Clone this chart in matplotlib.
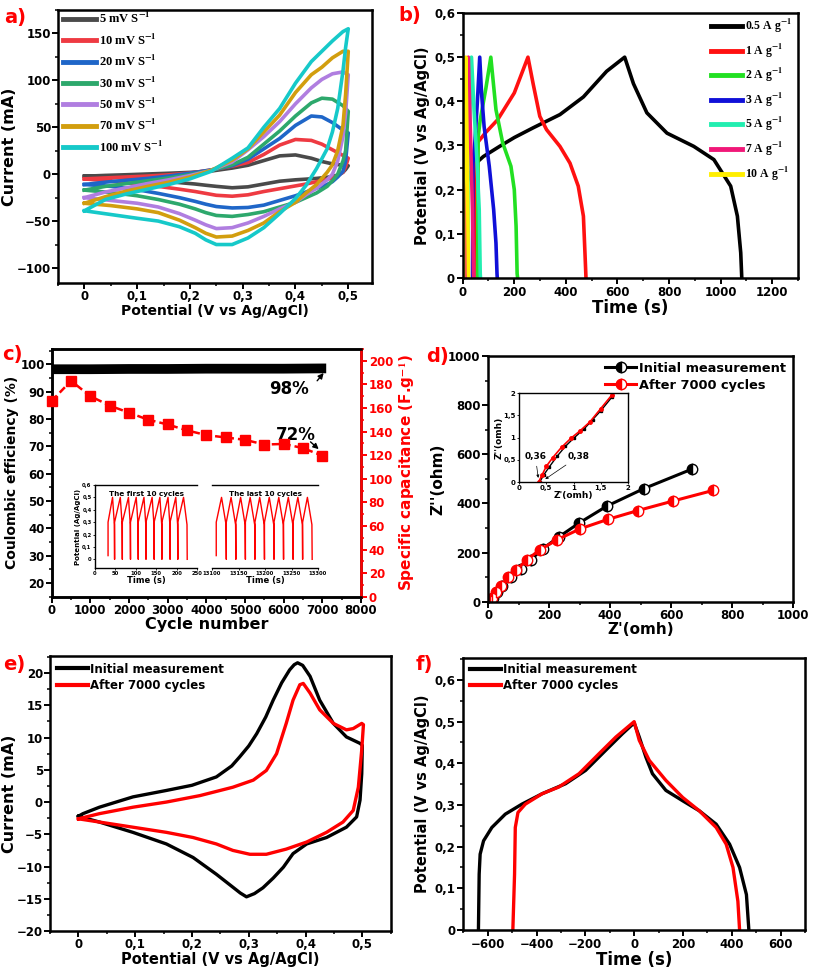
import matplotlib
matplotlib.use('Agg')
import matplotlib.pyplot as plt
from matplotlib.ticker import MultipleLocator, FuncFormatter

plt.rcParams['font.family'] = ['DejaVu Sans']
plt.rcParams['font.weight'] = 'bold'
plt.rcParams['axes.labelweight'] = 'bold'
plt.rcParams['axes.linewidth'] = 1.6
plt.rcParams['mathtext.fontset'] = 'stix'

# ---------------- data: panel a (CV at several scan rates) ----------------
cv_rates = ['5 mV S$^{-1}$', '10 mV S$^{-1}$', '20 mV S$^{-1}$', '30 mV S$^{-1}$',
            '50 mV S$^{-1}$', '70 mV S$^{-1}$', '100 mV S$^{-1}$']
cv_colors = ['#4a4a4a', '#ee3a42', '#1f66c8', '#2da86c', '#b07ee0', '#d29e0e', '#16c9c9']
cv_up_V = [0, .04, .08, .12, .16, .2, .24, .28, .31, .34, .37, .40, .43, .45, .47, .49, .5]
cv_dn_V = [.5, .495, .49, .48, .47, .46, .44, .42, .40, .37, .34, .31, .28, .25, .23, .21, .18, .14, .1, .05, 0]
cv_up_I = [
    [-2.2, -1.3, -0.6, 0.2, 1.0, 1.9, 3.3, 6.5, 9.5, 14.5, 19.5, 20.5, 17, 13.5, 11, 9.5, 9],
    [-5, -4, -3, -2, -0.7, 1.2, 4.5, 8.5, 12.5, 21, 31, 37, 36, 32, 26, 20, 17],
    [-11, -8.5, -6.5, -4.5, -2, 1, 4.5, 9, 16, 27, 38, 52, 62, 61, 55, 47, 44],
    [-17, -13, -10, -7, -4, -0.5, 4, 10, 18, 32, 46, 62, 76, 81, 80, 73, 67],
    [-25, -19, -14.5, -10, -6, -1.5, 4, 13, 26, 40, 56, 75, 92, 101, 107, 109, 106],
    [-31, -24, -18, -13, -8.5, -3, 4, 15, 27, 45, 63, 87, 106, 114, 124, 131, 131],
    [-39, -27, -21, -16, -11, -5, 3, 17, 28, 50, 70, 97, 120, 131, 142, 152, 155],
]
cv_dn_I = [
    [9, 5, 2, -1, -2.5, -3.3, -4.5, -5.3, -6, -7.5, -10.5, -13.5, -14.5, -13, -11.8, -10.5, -9, -7, -5, -3.3, -2.2],
    [17, 8, 2, -1.5, -4, -5.5, -8, -10.5, -12.5, -15.5, -18.5, -22, -23.5, -22.5, -20.5, -18.5, -16, -13, -10.5, -7.5, -5],
    [44, 14, 3, -3, -8, -11, -15, -19, -23, -28, -33, -35.5, -36, -34.5, -32, -29, -25, -20.5, -16.5, -13, -11],
    [67, 25, 14, 0, -7, -13, -20, -25, -30, -35, -40, -43, -45, -44, -41, -37, -32, -27, -23, -19.5, -17],
    [106, 65, 40, 14, 0, -6, -15, -22, -30, -37, -45, -52, -57, -58, -54, -49, -42, -35, -31, -28, -25],
    [131, 85, 52, 25, 10, 2, -11, -20, -30, -40, -52, -60, -66, -67, -63, -57, -49, -41, -37, -33.5, -31],
    [155, 135, 110, 70, 45, 27, 6, -12, -26, -42, -57, -68, -75, -75, -70, -63, -56, -50, -47, -43, -39],
]

# ---------------- data: panel b (GCD at several current densities) ----------------
gcd_labels = ['0.5 A g$^{-1}$', '1 A g$^{-1}$', '2 A g$^{-1}$', '3 A g$^{-1}$',
              '5 A g$^{-1}$', '7 A g$^{-1}$', '10 A g$^{-1}$']
gcd_colors = ['#000000', '#ff1010', '#22e022', '#1010d8', '#22eeb0', '#f01878', '#ffee00']
gcd_t = [
    [0, 4, 12, 38, 80, 143, 200, 273, 377, 468, 558, 628, 662, 714, 792, 896, 974, 1039, 1065, 1078, 1082],
    [44, 46, 51, 90, 135, 200, 253, 273, 299, 325, 377, 416, 448, 468, 474, 478],
    [58, 60, 68, 90, 109, 129, 155, 187, 200, 207, 211, 213],
    [38, 40, 47, 57, 66, 73, 83, 103, 120, 129, 133, 134],
    [20, 21, 25, 34, 44, 55, 64, 68, 69],
    [10, 11, 15, 22, 31, 38, 42, 43],
    [3, 4, 7, 12, 18, 22, 23],
]
gcd_V = [
    [0, 0.15, 0.207, 0.253, 0.275, 0.298, 0.318, 0.34, 0.37, 0.41, 0.468, 0.5, 0.44, 0.374, 0.328, 0.298, 0.268, 0.208, 0.14, 0.057, 0],
    [0, 0.29, 0.302, 0.33, 0.358, 0.419, 0.5, 0.44, 0.366, 0.336, 0.298, 0.26, 0.208, 0.14, 0.057, 0],
    [0, 0.32, 0.358, 0.43, 0.5, 0.381, 0.306, 0.253, 0.2, 0.117, 0.01, 0],
    [0, 0.26, 0.306, 0.4, 0.5, 0.419, 0.343, 0.253, 0.155, 0.079, 0.01, 0],
    [0, 0.25, 0.32, 0.5, 0.381, 0.268, 0.155, 0.01, 0],
    [0, 0.2, 0.3, 0.5, 0.306, 0.155, 0.01, 0],
    [0, 0.2, 0.3, 0.5, 0.267, 0.01, 0],
]

# ---------------- data: panel c (cycling) ----------------
ce_cycles = [0, 1000, 2000, 3000, 4000, 5000, 6000, 7000, 7100]
ce_values = [98.2, 98.2, 98.3, 98.3, 98.4, 98.4, 98.4, 98.5, 98.5]
cap_cycles = [0, 500, 1000, 1500, 2000, 2500, 3000, 3500, 4000, 4500, 5000, 5500, 6000, 6500, 7000]
cap_values = [166, 183, 170, 162, 156, 150, 146, 141, 137, 135, 133, 129, 129.5, 126, 119.5]
# inset: charge/discharge cycles (valley times, peak times, voltage levels)
first_valleys = [32, 48, 67, 87, 106, 125, 145, 164, 184, 203, 226]
first_peaks = [43, 62, 82, 101, 120, 140, 159, 179, 198, 217]
last_valleys = [13108, 13127, 13145, 13163, 13181, 13199, 13217, 13235, 13253, 13271, 13289]
last_peaks = [13118, 13136, 13154, 13172, 13190, 13208, 13226, 13244, 13262, 13280]
cyc_levels = [0.03, 0.30, 0.50, 0.28, 0.0]

# ---------------- data: panel d (Nyquist) ----------------
nyq_init_re = [3, 8, 15, 30, 46, 74, 107, 140, 178, 233, 299, 389, 510, 667]
nyq_init_im = [0, 4, 15, 38, 65, 99, 133, 171, 215, 265, 321, 389, 460, 539]
nyq_aft_re = [2, 4, 11, 24, 41, 66, 92, 126, 169, 227, 302, 392, 491, 607, 738]
nyq_aft_im = [0, 4, 15, 38, 65, 99, 129, 170, 211, 253, 297, 335, 371, 410, 453]
zin_init_re = [0.38, 0.45, 0.55, 0.70, 0.85, 1.00, 1.20, 1.35, 1.50, 1.70]
zin_init_im = [0.0, 0.15, 0.33, 0.58, 0.80, 0.98, 1.20, 1.40, 1.60, 1.90]
zin_aft_re = [0.36, 0.42, 0.50, 0.62, 0.78, 0.95, 1.12, 1.30, 1.50, 1.70]
zin_aft_im = [0.0, 0.15, 0.35, 0.55, 0.78, 0.98, 1.15, 1.35, 1.65, 1.95]

# ---------------- data: panel e (CV before/after) ----------------
e_init_V = [0, .008, .037, .096, .155, .20, .243, .27, .284, .30, .314, .33, .343, .358, .372, .38, .386, .395, .408, .425,
            .449, .472, .496, .5,
            .499, .496, .49, .472, .437, .402, .378, .361, .343, .325, .31, .296, .285, .272, .243, .202, .155, .096,
            .037, 0]
e_init_I = [-2.2, -1.8, -0.8, 0.8, 1.8, 2.6, 3.9, 5.6, 7, 8.7, 10.6, 13.2, 15.8, 18.5, 20.5, 21.3, 21.6, 21.2, 19.5, 15.8,
            12.2, 10.1, 9.1, 8.8,
            4.4, 0.3, -2.3, -3.9, -5.5, -6.5, -8, -10.1, -11.8, -13.3, -14.2, -14.7, -14.1, -13.2, -11.2, -8.6, -6.5, -4.7,
            -3.1, -2.2]
e_aft_V = [0, .037, .096, .155, .214, .272, .308, .331, .349, .366, .378, .39, .396, .408, .425, .449, .472, .484, .499, .502,
           .499, .493, .484, .466, .437, .402, .366, .331, .302, .272, .243, .202, .155, .096, .037, 0]
e_aft_I = [-2.6, -1.8, -0.8, 0, 1, 2.3, 3.4, 4.9, 7.5, 12.2, 15.8, 18.2, 18.4, 16.9, 14.3, 12.2, 11.2, 11.4, 12.2, 12,
           8.1, 2.3, -1.3, -3.1, -4.7, -6.2, -7.3, -8.1, -8.1, -7.5, -6.5, -5.5, -4.7, -3.9, -3.1, -2.6]

# ---------------- data: panel f (GCD before/after) ----------------
f_init_t = [-638, -635, -631, -617, -583, -528, -460, -377, -281, -199, -117, -48, 0,
            21, 48, 75, 130, 199, 267, 336, 391, 432, 460, 470]
f_init_V = [0, 0.134, 0.182, 0.214, 0.246, 0.278, 0.302, 0.327, 0.351, 0.383, 0.431, 0.471, 0.497,
            0.463, 0.415, 0.375, 0.335, 0.31, 0.286, 0.254, 0.206, 0.15, 0.085, 0]
f_aft_t = [-497, -490, -487, -476, -446, -377, -309, -226, -144, -75, 0,
           21, 62, 130, 199, 267, 336, 377, 405, 425, 432]
f_aft_V = [0, 0.134, 0.246, 0.282, 0.302, 0.327, 0.343, 0.375, 0.423, 0.463, 0.5,
           0.455, 0.407, 0.359, 0.318, 0.286, 0.246, 0.206, 0.15, 0.069, 0]

W, H = 813, 977


def rect(l, r, t, b):
    return [l / W, 1 - b / H, (r - l) / W, (b - t) / H]


def comma_fmt(x, pos):
    s = '%g' % round(x, 6)
    return s.replace('.', ',')


def style(ax, fs=8.5, pad=1.5):
    ax.tick_params(which='major', direction='out', width=1.4, length=4, labelsize=fs, pad=pad)
    ax.tick_params(which='minor', direction='out', width=1.1, length=2.5)
    for sp in ax.spines.values():
        sp.set_linewidth(1.8)


fig = plt.figure(figsize=(8.13, 9.77), dpi=100)

# ====================== panel a ======================
ax = fig.add_axes(rect(58, 372, 10, 283))
for i in range(len(cv_rates)):
    ax.plot(cv_up_V + cv_dn_V, cv_up_I[i] + cv_dn_I[i], color=cv_colors[i], lw=2.6,
            label=cv_rates[i], solid_joinstyle='round')
ax.set_xlim(-0.05, 0.545)
ax.set_ylim(-116, 175)
ax.xaxis.set_major_locator(MultipleLocator(0.1))
ax.xaxis.set_minor_locator(MultipleLocator(0.05))
ax.yaxis.set_major_locator(MultipleLocator(50))
ax.yaxis.set_minor_locator(MultipleLocator(25))
ax.xaxis.set_major_formatter(FuncFormatter(comma_fmt))
style(ax, pad=1)
ax.set_xlabel('Potential (V vs Ag/AgCl)', fontsize=10, labelpad=1)
ax.set_ylabel('Current (mA)', fontsize=11.5, labelpad=0)
leg = ax.legend(loc='upper left', bbox_to_anchor=(0.016, 0.995), frameon=False,
                prop={'family': 'Liberation Serif', 'weight': 'bold', 'size': 9},
                handlelength=2.6, handletextpad=0.3, labelspacing=0.5, borderaxespad=0, borderpad=0)
for l in leg.get_lines():
    l.set_linewidth(3.5)

# ====================== panel b ======================
ax = fig.add_axes(rect(462.7, 798, 13, 278))
for i in range(len(gcd_labels)):
    ax.plot(gcd_t[i], gcd_V[i], color=gcd_colors[i], lw=2.6, label=gcd_labels[i])
ax.set_xlim(0, 1300)
ax.set_ylim(0, 0.6)
ax.xaxis.set_major_locator(MultipleLocator(200))
ax.xaxis.set_minor_locator(MultipleLocator(100))
ax.yaxis.set_major_locator(MultipleLocator(0.1))
ax.yaxis.set_minor_locator(MultipleLocator(0.05))
ax.yaxis.set_major_formatter(FuncFormatter(comma_fmt))
style(ax)
ax.set_xlabel('Time (s)', fontsize=12, labelpad=0)
ax.set_ylabel('Potential (V vs Ag/AgCl)', fontsize=10.5, labelpad=3)
leg = ax.legend(loc='upper left', bbox_to_anchor=(0.742, 0.985), frameon=False,
                prop={'family': 'Liberation Serif', 'weight': 'bold', 'size': 8.5},
                handlelength=2.6, handletextpad=0.25, labelspacing=0.55, borderaxespad=0, borderpad=0)
for l in leg.get_lines():
    l.set_linewidth(3.5)

# ====================== panel c ======================
ax = fig.add_axes(rect(51.7, 361, 349, 596.7))
ax.plot(ce_cycles, ce_values, color='black', lw=7, solid_capstyle='butt')
ax.set_xlim(0, 8000)
ax.set_ylim(15, 105.6)
ax.xaxis.set_major_locator(MultipleLocator(1000))
ax.xaxis.set_minor_locator(MultipleLocator(500))
ax.yaxis.set_minor_locator(MultipleLocator(5))
ax.set_yticks([20, 30, 40, 50, 60, 70, 80, 90, 100])
style(ax, pad=1)
ax.set_xlabel('Cycle number', fontsize=11.5, labelpad=0)
ax.set_ylabel('Coulombic efficiency (%)', fontsize=10, labelpad=1)
ax2 = ax.twinx()
ax2.plot(cap_cycles, cap_values, color='red', lw=1.8, ls=(0, (3, 1.6)), marker='s', ms=7.5,
         markeredgecolor='red', markerfacecolor='red', clip_on=False, zorder=5)
ax2.set_ylim(0, 210)
ax2.yaxis.set_major_locator(MultipleLocator(20))
ax2.yaxis.set_minor_locator(MultipleLocator(10))
style(ax2)
ax2.tick_params(axis='y', which='both', colors='red', labelcolor='red')
ax2.spines['right'].set_color('red')
ax2.set_ylabel('Specific capacitance (F.g$^{\\mathbf{-1}}$)', color='red', fontsize=11, labelpad=3)
ax.text(6150, 91, '98%', fontsize=12, fontweight='bold', ha='center', va='center')
ax.annotate('', xy=(7080, 97.6), xytext=(6820, 93.2),
            arrowprops=dict(arrowstyle='-|>', color='black', lw=1.0, mutation_scale=8))
ax.text(6320, 74.2, '72%', fontsize=12, fontweight='bold', ha='center', va='center')
ax.annotate('', xy=(6960, 68.3), xytext=(6640, 72.3),
            arrowprops=dict(arrowstyle='-|>', color='black', lw=1.0, mutation_scale=8))


# inset c (two broken-axis panels)
def cycle_path(valleys, peaks):
    tt, vv = [], []
    for k in range(len(peaks)):
        tt += [valleys[k], valleys[k], peaks[k], valleys[k + 1] - 0.5, valleys[k + 1]]
        vv += [cyc_levels[0] if k == 0 else cyc_levels[4], cyc_levels[1], cyc_levels[2], cyc_levels[3], cyc_levels[4]]
    return tt, vv


axi1 = fig.add_axes(rect(95, 197, 485, 568))
t1, v1 = cycle_path(first_valleys, first_peaks)
axi1.plot(t1, v1, color='red', lw=1.0)
axi1.set_xlim(0, 250)
axi1.set_ylim(-0.07, 0.6)
axi1.set_xticks([0, 50, 100, 150, 200, 250])
axi1.set_yticks([0, 0.1, 0.2, 0.3, 0.4, 0.5, 0.6])
axi1.yaxis.set_major_formatter(FuncFormatter(comma_fmt))
axi1.spines['right'].set_visible(False)
for sp in axi1.spines.values():
    sp.set_linewidth(1.0)
axi1.tick_params(labelsize=3.8, length=1.5, width=0.6, pad=1)
axi1.set_xlabel('Time (s)', fontsize=6, labelpad=0)
axi1.set_ylabel('Potential (Ag/AgCl)', fontsize=5, labelpad=1)
axi1.text(0.5, 0.93, 'The first 10 cycles', transform=axi1.transAxes, ha='center', va='top', fontsize=5.2)
axi1.patch.set_alpha(0)

axi2 = fig.add_axes(rect(212, 318, 485, 568))
t2, v2 = cycle_path(last_valleys, last_peaks)
axi2.plot(t2, v2, color='red', lw=1.0)
axi2.set_xlim(13100, 13300)
axi2.set_ylim(-0.07, 0.6)
axi2.set_xticks([13100, 13150, 13200, 13250, 13300])
axi2.set_yticks([])
axi2.spines['left'].set_visible(False)
axi2.spines['right'].set_visible(False)
for sp in axi2.spines.values():
    sp.set_linewidth(1.0)
axi2.tick_params(labelsize=3.8, length=1.5, width=0.6, pad=1)
axi2.set_xlabel('Time (s)', fontsize=6, labelpad=0)
axi2.text(0.5, 0.93, 'The last 10 cycles', transform=axi2.transAxes, ha='center', va='top', fontsize=5.2)
axi2.patch.set_alpha(0)

# ====================== panel d ======================
ax = fig.add_axes(rect(488.3, 793, 356, 601.7))
ax.plot(nyq_init_re, nyq_init_im, color='black', lw=2.2, marker='o', ms=7.5, fillstyle='left',
        markerfacecolor='black', markerfacecoloralt='white', markeredgecolor='black', markeredgewidth=1.0,
        label='Initial measurement')
ax.plot(nyq_aft_re, nyq_aft_im, color='red', lw=2.2, marker='o', ms=7.5, fillstyle='left',
        markerfacecolor='red', markerfacecoloralt='white', markeredgecolor='red', markeredgewidth=1.0,
        label='After 7000 cycles')
ax.set_xlim(0, 1000)
ax.set_ylim(0, 1000)
ax.xaxis.set_major_locator(MultipleLocator(200))
ax.xaxis.set_minor_locator(MultipleLocator(100))
ax.yaxis.set_major_locator(MultipleLocator(200))
ax.yaxis.set_minor_locator(MultipleLocator(100))
style(ax)
ax.set_xlabel("Z'(omh)", fontsize=11, labelpad=0)
ax.set_ylabel("Z''(ohm)", fontsize=11, labelpad=2)
ax.legend(loc='upper left', bbox_to_anchor=(0.383, 0.977), frameon=False, fontsize=9.3,
          handlelength=2.4, handletextpad=0.2, labelspacing=0.3, borderaxespad=0, borderpad=0, numpoints=1)

axd = fig.add_axes(rect(519, 628, 393, 482))
axd.plot(zin_init_re, zin_init_im, color='black', lw=1.0, marker='s', ms=2)
axd.plot(zin_aft_re, zin_aft_im, color='red', lw=1.2, marker='o', ms=2.5)
axd.set_xlim(0, 2)
axd.set_ylim(0, 2)
axd.set_xticks([0, 0.5, 1, 1.5, 2])
axd.set_yticks([0, 0.5, 1, 1.5, 2])
axd.xaxis.set_major_formatter(FuncFormatter(comma_fmt))
axd.yaxis.set_major_formatter(FuncFormatter(comma_fmt))
for sp in axd.spines.values():
    sp.set_linewidth(1.0)
axd.tick_params(labelsize=5, length=1.5, width=0.6, pad=1)
axd.set_xlabel("Z'(omh)", fontsize=6.5, labelpad=0)
axd.set_ylabel("Z''(omh)", fontsize=6.5, labelpad=0)
axd.annotate('0,36', xy=(0.36, 0.03), xytext=(0.30, 0.58), fontsize=6.5, ha='center', va='center',
             arrowprops=dict(arrowstyle='-|>', color='black', lw=0.5, mutation_scale=4))
axd.annotate('0,38', xy=(0.44, 0.03), xytext=(1.1, 0.58), fontsize=6.5, ha='center', va='center',
             arrowprops=dict(arrowstyle='-|>', color='black', lw=0.5, mutation_scale=4))

# ====================== panel e ======================
ax = fig.add_axes(rect(50, 390.7, 655.7, 931))
ax.plot(e_init_V, e_init_I, color='black', lw=2.4, label='Initial measurement')
ax.plot(e_aft_V, e_aft_I, color='red', lw=2.4, label='After 7000 cycles')
ax.set_xlim(-0.05, 0.55)
ax.set_ylim(-20, 22.7)
ax.xaxis.set_major_locator(MultipleLocator(0.1))
ax.xaxis.set_minor_locator(MultipleLocator(0.05))
ax.yaxis.set_major_locator(MultipleLocator(5))
ax.yaxis.set_minor_locator(MultipleLocator(2.5))
ax.xaxis.set_major_formatter(FuncFormatter(comma_fmt))
style(ax, pad=1)
ax.set_xlabel('Potential (V vs Ag/AgCl)', fontsize=10.5, labelpad=1)
ax.set_ylabel('Current (mA)', fontsize=11.5, labelpad=0)
leg = ax.legend(loc='upper left', bbox_to_anchor=(0.02, 0.975), frameon=False, fontsize=8.5,
                handlelength=2.6, handletextpad=0.2, labelspacing=0.3, borderaxespad=0, borderpad=0)
for l in leg.get_lines():
    l.set_linewidth(3)

# ====================== panel f ======================
ax = fig.add_axes(rect(463.3, 805, 658.3, 930))
ax.plot(f_init_t, f_init_V, color='black', lw=2.4, label='Initial measurement')
ax.plot(f_aft_t, f_aft_V, color='red', lw=2.4, label='After 7000 cycles')
ax.set_xlim(-700, 700)
ax.set_ylim(0, 0.652)
ax.xaxis.set_major_locator(MultipleLocator(200))
ax.xaxis.set_minor_locator(MultipleLocator(100))
ax.yaxis.set_major_locator(MultipleLocator(0.1))
ax.yaxis.set_minor_locator(MultipleLocator(0.05))
ax.yaxis.set_major_formatter(FuncFormatter(comma_fmt))
style(ax)
ax.set_xlabel('Time (s)', fontsize=12, labelpad=0)
ax.set_ylabel('Potential (V vs Ag/AgCl)', fontsize=10.5, labelpad=3)
leg = ax.legend(loc='upper left', bbox_to_anchor=(0.02, 0.983), frameon=False, fontsize=8.5,
                handlelength=2.6, handletextpad=0.2, labelspacing=0.3, borderaxespad=0, borderpad=0)
for l in leg.get_lines():
    l.set_linewidth(3)

# ---------------- panel letters ----------------
for txt, x, y in [('a)', 4, 8), ('b)', 398, 6), ('c)', 2, 345), ('d)', 426, 347), ('e)', 3, 655), ('f)', 416, 655)]:
    fig.text(x / W, 1 - y / H, txt, color='red', fontsize=14, fontweight='bold', va='top', ha='left')

fig.savefig('out.png', dpi=100)
